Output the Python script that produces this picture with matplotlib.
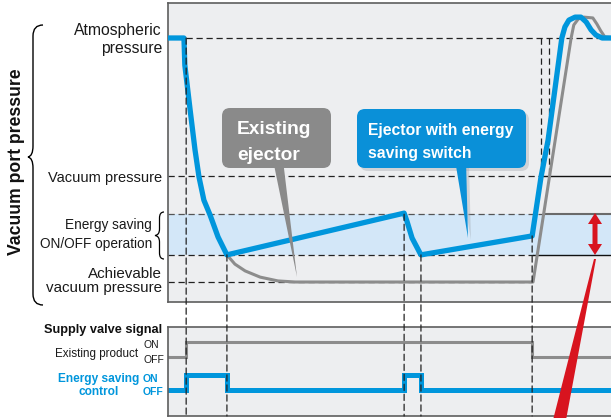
import matplotlib
matplotlib.use("Agg")
import matplotlib.pyplot as plt
from matplotlib.patches import FancyBboxPatch, Polygon, PathPatch, ConnectionPatch
from matplotlib.path import Path
from matplotlib import font_manager

# ---------------- data ----------------
# pressure levels (kPa, gauge)
P_ATM = 0
P_VAC = -51
P_SAVE_HI = -65
P_SAVE_LO = -80
P_ACH = -90

# event times (arbitrary time units)
T_ON = 4.1          # supply valve ON
T_REACH_LO = 13.3   # energy-saving: lower threshold reached -> valve OFF
T_RESTART = 53.3    # upper threshold reached -> valve ON again
T_RESTOP = 57.1     # lower threshold reached again -> OFF
T_OFF = 82.2        # supply valve OFF (release)
T_VAC_BLUE = 84.2   # blue curve crosses vacuum pressure level on release
T_VAC_GREY = 86.0   # grey curve crosses vacuum pressure level on release
T_END = 101.2

# vacuum port pressure, ejector with energy saving switch
blue_t = [0, 3.6, 3.8, 5.0, 6.1, 7.0, 8.1, 9.5, 11.3, 13.3,
          53.3, 54.0, 55.1, 57.1,
          82.2, 84.2, 85.8, 88.9, 89.6, 90.5, 91.9, 93.2, 94.4, 95.5, 96.6, 98.0, T_END]
blue_p = [0, 0, -10.0, -26.6, -41.3, -51.3, -59.8, -65.3, -73.4, -80.0,
          -64.6, -67.9, -73.8, -80.0,
          -73.0, -51.3, -37.6, 0, 4.1, 6.6, 7.7, 7.7, 5.9, 3.0, 1.1, 0, 0]

# vacuum port pressure, existing ejector
grey_t = [0, 3.6, 3.8, 5.0, 6.1, 7.0, 8.1, 9.5, 11.3, 13.3,
          15.1, 17.4, 20.8, 24.8, 28.7, 82.2, 82.4,
          91.0, 91.6, 92.6, 93.9, 95.9, 96.8, 97.7, 98.6, T_END]
grey_p = [0, 0, -10.0, -26.6, -41.3, -51.3, -59.8, -65.3, -73.4, -80.0,
          -83.4, -85.9, -88.2, -89.6, -90, -90, -90,
          0, 4.8, 7.0, 7.7, 7.4, 5.2, 2.6, 0.4, 0]

# supply valve signals (1 = ON, 0 = OFF)
sig_grey_t = [0, T_ON, T_OFF, T_END]
sig_grey = [0, 1, 0, 0]
sig_blue_t = [0, T_ON, T_REACH_LO, T_RESTART, T_RESTOP, T_END]
sig_blue = [0, 1, 0, 1, 0, 0]

# ---------------- style ----------------
BLUE = "#0096dc"
GREY = "#8c8c8c"
BOX_GREY = "#8a8a8a"
BOX_BLUE = "#0a90d8"
RED = "#d8141f"
BG = "#edeef0"
BAND = "#d3e7f8"
FRAME = "#5e5e5e"
DASH = (0, (5, 3))

names = {f.name for f in font_manager.fontManager.ttflist}
NARROW = "Liberation Sans Narrow" in names
BASE = "Liberation Sans"
COND = "Liberation Sans Narrow" if NARROW else "Liberation Sans"
CS = 1.0 if NARROW else 0.82

W, H = 611, 418
fig = plt.figure(figsize=(W / 100, H / 100), dpi=100)
fig.patch.set_facecolor("white")


def rect(l, t, r, b):
    return [l / W, 1 - b / H, (r - l) / W, (b - t) / H]


PX_PER_T = 4.43
PX_PER_KPA = 244 / 90.0

# top panel
ax = fig.add_axes(rect(168, 3, 168 + T_END * PX_PER_T, 302))
ax.set_xlim(0, T_END)
ax.set_ylim(-(302 - 38) / PX_PER_KPA, (38 - 3) / PX_PER_KPA)
ax.set_facecolor(BG)
ax.set_xticks([]); ax.set_yticks([])
for s in ["left", "top", "bottom"]:
    ax.spines[s].set_color(FRAME); ax.spines[s].set_linewidth(1.2)
ax.spines["right"].set_visible(False)

ax.axhspan(P_SAVE_LO, P_SAVE_HI, color=BAND, zorder=0.5, lw=0)

dk = dict(color="#222222", lw=0.9, ls=DASH, zorder=1)
ax.plot([T_ON, 97], [P_ATM, P_ATM], **dk)
ax.plot([0, T_VAC_BLUE], [P_VAC, P_VAC], **dk)
ax.plot([T_VAC_BLUE, T_END], [P_VAC, P_VAC], color="#111111", lw=1.0, zorder=1)
ax.plot([0, 85.1], [P_SAVE_HI, P_SAVE_HI], color="#555555", lw=0.9, ls=DASH, zorder=1)
ax.plot([85.1, T_END], [P_SAVE_HI, P_SAVE_HI], color="#6a6a6a", lw=1.5, zorder=1)
ax.plot([0, 82.4], [P_SAVE_LO, P_SAVE_LO], **dk)
ax.plot([82.4, T_END], [P_SAVE_LO, P_SAVE_LO], color="#111111", lw=1.0, zorder=1)
ax.plot([0, T_OFF], [P_ACH, P_ACH], **dk)
ax.plot([T_VAC_BLUE, T_VAC_BLUE], [P_ATM, P_VAC], **dk)
ax.plot([T_VAC_GREY, T_VAC_GREY], [P_ATM, P_VAC], **dk)

ax.plot(grey_t, grey_p, color=GREY, lw=2.2, zorder=3, solid_joinstyle="round")
ax.plot(blue_t, blue_p, color=BLUE, lw=3.8, zorder=4, solid_joinstyle="round",
        solid_capstyle="butt")

# bottom panel
axb = fig.add_axes(rect(168, 327, 168 + T_END * PX_PER_T, 416))
axb.set_xlim(0, T_END)
axb.set_ylim(89, 0)
axb.set_facecolor(BG)
axb.set_xticks([]); axb.set_yticks([])
for s in ["left", "top", "bottom"]:
    axb.spines[s].set_color(FRAME); axb.spines[s].set_linewidth(1.2)
axb.spines["right"].set_visible(False)

G_ON, G_OFF, B_ON, B_OFF = 15, 30, 48, 63
axb.plot(sig_grey_t, [G_OFF - s * (G_OFF - G_ON) for s in sig_grey],
         drawstyle="steps-post", color=GREY, lw=2.2, solid_joinstyle="miter")
axb.plot(sig_blue_t, [B_OFF - s * (B_OFF - B_ON) for s in sig_blue],
         drawstyle="steps-post", color=BLUE, lw=3.6, solid_joinstyle="miter")

# vertical event lines spanning both panels
for t, p0 in [(T_ON, P_ATM), (T_REACH_LO, P_SAVE_LO), (T_RESTART, P_SAVE_HI),
              (T_RESTOP, P_SAVE_LO), (T_OFF, -73.0)]:
    con = ConnectionPatch(xyA=(t, p0), coordsA=ax.transData,
                          xyB=(t, 89), coordsB=axb.transData,
                          color="#222222", lw=0.9, ls=DASH, zorder=1)
    fig.add_artist(con)

# overlay in pixel coordinates for annotations
ov = fig.add_axes([0, 0, 1, 1], zorder=5)
ov.set_xlim(0, W); ov.set_ylim(H, 0); ov.axis("off")

# callout: existing ejector
ov.add_patch(Polygon([(273, 160), (283, 160), (297, 277)], closed=True,
                     fc=BOX_GREY, ec="none"))
ov.add_patch(FancyBboxPatch((222, 108), 109, 60, boxstyle="round,pad=0,rounding_size=8",
                            fc=BOX_GREY, ec="none"))
ov.text(237, 134.5, "Existing", color="white", fontsize=13.8, fontweight="bold",
        family=BASE, va="baseline", ha="left")
ov.text(237, 160, "ejector", color="white", fontsize=13.8, fontweight="bold",
        family=BASE, va="baseline", ha="left")

# callout: ejector with energy saving switch (with soft shadow)
ov.add_patch(Polygon([(458, 164), (469, 164), (471, 240)], closed=True,
                     fc="#9aa0a6", ec="none", alpha=0.35))
ov.add_patch(FancyBboxPatch((360, 112), 169, 59, boxstyle="round,pad=0,rounding_size=8",
                            fc="#9aa0a6", ec="none", alpha=0.35))
ov.add_patch(Polygon([(455, 160), (466, 160), (468, 238)], closed=True,
                     fc=BOX_BLUE, ec="none"))
ov.add_patch(FancyBboxPatch((357, 109), 169, 59, boxstyle="round,pad=0,rounding_size=8",
                            fc=BOX_BLUE, ec="none"))
ov.text(368, 135, "Ejector with energy", color="white", fontsize=13.8 * CS,
        fontweight="bold", family=COND, va="baseline", ha="left")
ov.text(368, 158.3, "saving switch", color="white", fontsize=13.8 * CS,
        fontweight="bold", family=COND, va="baseline", ha="left")

# red double arrow and pointer
ov.add_patch(Polygon([(595, 213), (602, 224), (597.5, 224), (597.5, 244), (602, 244),
                      (595, 255), (588, 244), (592.5, 244), (592.5, 224), (588, 224)],
                     closed=True, fc=RED, ec="none"))
ov.add_patch(Polygon([(594, 259), (596, 259), (566, 420), (553, 420)], closed=True,
                     fc=RED, ec="none"))

# braces
big = Path([(43, 25), (33, 25), (33, 36), (33, 146), (33, 156), (28, 157),
            (33, 158), (33, 168), (33, 294), (33, 305), (43, 305)],
           [Path.MOVETO, Path.CURVE3, Path.CURVE3, Path.LINETO, Path.CURVE3, Path.CURVE3,
            Path.CURVE3, Path.CURVE3, Path.LINETO, Path.CURVE3, Path.CURVE3])
ov.add_patch(PathPatch(big, fc="none", ec="black", lw=1.0))
small = Path([(164, 212), (159.5, 212), (159.5, 218), (159.5, 229), (159.5, 235), (155, 235.5),
              (159.5, 236), (159.5, 242), (159.5, 253), (159.5, 259), (164, 259)],
             [Path.MOVETO, Path.CURVE3, Path.CURVE3, Path.LINETO, Path.CURVE3, Path.CURVE3,
              Path.CURVE3, Path.CURVE3, Path.LINETO, Path.CURVE3, Path.CURVE3])
ov.add_patch(PathPatch(small, fc="none", ec="black", lw=0.9))

# left labels
def lab(x, y, s, size, **kw):
    kw.setdefault("family", BASE)
    kw.setdefault("ha", "right")
    ov.text(x, y, s, fontsize=size, va="baseline", color=kw.pop("color", "#1a1a1a"), **kw)

lab(162, 35, "Atmospheric", 11.3)
lab(162, 53, "pressure", 11.3)
lab(162, 182, "Vacuum pressure", 10.5)
lab(152, 229, "Energy saving", 9.8)
lab(152, 248, "ON/OFF operation", 9.8)
lab(162, 278, "Achievable", 10.9)
lab(162, 292, "vacuum pressure", 10.9)
ov.text(16.5, 162, "Vacuum port pressure", rotation=90, fontsize=12.7, fontweight="bold",
        family=BASE, ha="center", va="center", color="#111111")

lab(162, 333, "Supply valve signal", 11.2 * CS, family=COND, fontweight="bold",
    color="#111111")
lab(138, 357, "Existing product", 10.2 * CS, family=COND)
lab(143, 348, "ON", 7.5, ha="left")
lab(143, 363, "OFF", 7.5, ha="left")
lab(99, 382, "Energy saving", 10.4 * CS, family=COND, fontweight="bold", color=BLUE,
    ha="center")
lab(99, 395, "control", 10.4 * CS, family=COND, fontweight="bold", color=BLUE,
    ha="center")
lab(143, 382, "ON", 7.5, ha="left", fontweight="bold", color=BLUE)
lab(143, 395, "OFF", 7.5, ha="left", fontweight="bold", color=BLUE)

fig.savefig("out.png", dpi=100)
